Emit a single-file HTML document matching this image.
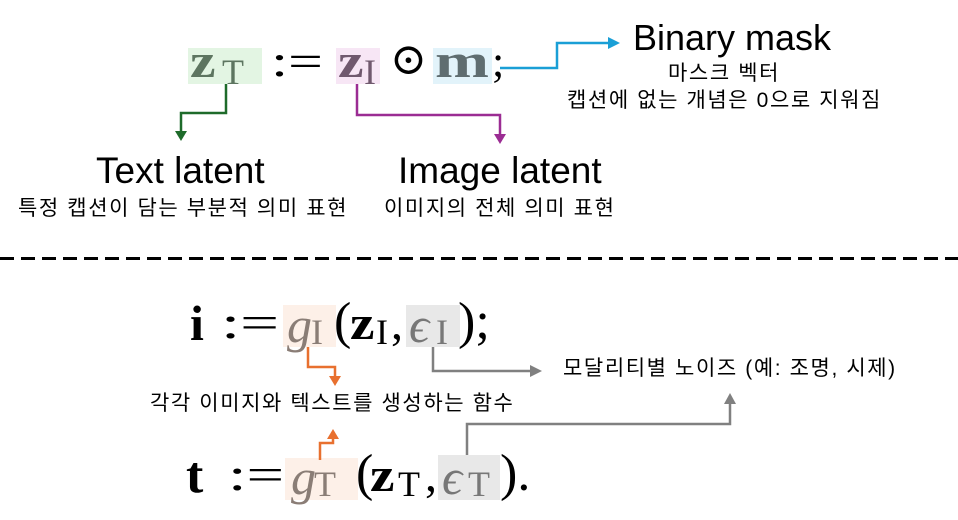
<!DOCTYPE html>
<html><head><meta charset="utf-8"><style>
body{margin:0;width:958px;height:520px;background:#fff;position:relative;overflow:hidden}
.a{position:absolute;white-space:nowrap;line-height:1}
.m{font-family:"Liberation Serif","DejaVu Serif",serif}
.k{font-family:"Liberation Sans","Noto Sans CJK KR",sans-serif;color:#000}
.kk{font-size:21px;letter-spacing:1.6px}
.box{position:absolute}
.sx{transform-origin:0 0}
</style></head><body>
<!-- boxes -->
<div class="box" style="left:188px;top:48px;width:74px;height:36px;background:#e3f5e3"></div>
<div class="box" style="left:336px;top:48px;width:44px;height:36px;background:#f7e6f5"></div>
<div class="box" style="left:433px;top:48px;width:59px;height:36px;background:#e2f3fa"></div>
<div class="box" style="left:283px;top:305px;width:53px;height:42px;background:#fdf0e8"></div>
<div class="box" style="left:406px;top:305px;width:54px;height:42px;background:#e8e8e8"></div>
<div class="box" style="left:285px;top:458px;width:73px;height:42px;background:#fdf0e8"></div>
<div class="box" style="left:438px;top:455px;width:62px;height:45px;background:#e8e8e8"></div>

<!-- top equation -->
<div class="a m sx" style="left:190px;top:38px;font-size:48px;font-weight:bold;color:#5d7560;transform:scaleX(1.2)">z</div>
<div class="a m" style="left:222px;top:54px;font-size:36px;color:#5d7560">T</div>
<div class="a m sx" style="left:271px;top:40px;font-size:44px;transform:scaleX(1.4)">:=</div>
<div class="a m sx" style="left:338px;top:38px;font-size:48px;font-weight:bold;color:#70596e;transform:scaleX(1.2)">z</div>
<div class="a m" style="left:364px;top:54px;font-size:36px;color:#70596e">I</div>
<div class="a m" style="left:390px;top:38px;font-size:44px">⊙</div>
<div class="a m sx" style="left:435px;top:38px;font-size:48px;font-weight:bold;color:#5f6d70;transform:scaleX(1.35)">m</div>
<div class="a m" style="left:492px;top:40px;font-size:44px">;</div>

<div class="a k" style="left:633px;top:20px;font-size:36px">Binary mask</div>
<div class="a k kk" style="left:668px;top:63px">마스크 벡터</div>
<div class="a k kk" style="left:567px;top:90px">캡션에 없는 개념은 0으로 지워짐</div>
<div class="a k" style="left:96px;top:152px;font-size:37px">Text latent</div>
<div class="a k kk" style="left:18px;top:198px">특정 캡션이 담는 부분적 의미 표현</div>
<div class="a k" style="left:398px;top:152px;font-size:37px">Image latent</div>
<div class="a k kk" style="left:384px;top:198px">이미지의 전체 의미 표현</div>

<!-- bottom equations -->
<div class="a m" style="left:190px;top:298px;font-size:50px;font-weight:bold">i</div>
<div class="a m sx" style="left:221px;top:300px;font-size:46px;transform:scaleX(1.5)">:=</div>
<div class="a m" style="left:287px;top:300px;font-size:50px;font-style:italic;color:#8a7d76">g</div>
<div class="a m" style="left:311px;top:314px;font-size:36px;color:#8a7d76">I</div>
<div class="a m" style="left:334px;top:296px;font-size:52px">(</div>
<div class="a m sx" style="left:350px;top:300px;font-size:48px;font-weight:bold;transform:scaleX(1.15)">z</div>
<div class="a m" style="left:376px;top:314px;font-size:36px">I</div>
<div class="a m" style="left:391px;top:300px;font-size:48px">,</div>
<div class="a m" style="left:409px;top:300px;font-size:50px;font-style:italic;color:#777">ϵ</div>
<div class="a m" style="left:436px;top:314px;font-size:36px;color:#777">I</div>
<div class="a m" style="left:458px;top:296px;font-size:52px">);</div>

<div class="a m" style="left:186px;top:450px;font-size:52px;font-weight:bold">t</div>
<div class="a m sx" style="left:228px;top:452px;font-size:46px;transform:scaleX(1.45)">:=</div>
<div class="a m" style="left:291px;top:452px;font-size:50px;font-style:italic;color:#8a7d76">g</div>
<div class="a m" style="left:314px;top:466px;font-size:36px;color:#8a7d76">T</div>
<div class="a m" style="left:356px;top:448px;font-size:52px">(</div>
<div class="a m sx" style="left:370px;top:452px;font-size:48px;font-weight:bold;transform:scaleX(1.15)">z</div>
<div class="a m" style="left:398px;top:466px;font-size:36px">T</div>
<div class="a m" style="left:425px;top:452px;font-size:48px">,</div>
<div class="a m" style="left:442px;top:452px;font-size:50px;font-style:italic;color:#777">ϵ</div>
<div class="a m" style="left:468px;top:466px;font-size:36px;color:#777">T</div>
<div class="a m" style="left:500px;top:448px;font-size:52px">).</div>

<div class="a k kk" style="left:563px;top:358px">모달리티별 노이즈 (예: 조명, 시제)</div>
<div class="a k kk" style="left:150px;top:393px">각각 이미지와 텍스트를 생성하는 함수</div>

<svg width="958" height="520" style="position:absolute;left:0;top:0">
<line x1="0" y1="258.5" x2="958" y2="258.5" stroke="#000" stroke-width="3" stroke-dasharray="14 7"/>
<g fill="none" stroke-width="2.5">
<polyline points="500,68 557,68 557,43 612,43" stroke="#1a9fd6"/>
<polyline points="226,84 226,113 181,113 181,133" stroke="#1e6b2a"/>
<polyline points="357,84 357,115 500,115 500,136" stroke="#9b2c93"/>
<polyline points="433,347 433,371 532,371" stroke="#808080"/>
<polyline points="308,347 308,367 335,367 335,378" stroke="#e8702f"/>
<polyline points="320,460 320,443 333,443 333,437" stroke="#e8702f"/>
<polyline points="467,455 467,424 730,424 730,402" stroke="#808080"/>
</g>
<polygon points="620,43 608,37 608,49" fill="#1a9fd6"/>
<polygon points="181,141 175,131 187,131" fill="#1e6b2a"/>
<polygon points="500,144 494,134 506,134" fill="#9b2c93"/>
<polygon points="542,371 530,365 530,377" fill="#808080"/>
<polygon points="335,386 329,376 341,376" fill="#e8702f"/>
<polygon points="333,429 327,439 339,439" fill="#e8702f"/>
<polygon points="730,393 724,404 736,404" fill="#808080"/>
</svg>
</body></html>
